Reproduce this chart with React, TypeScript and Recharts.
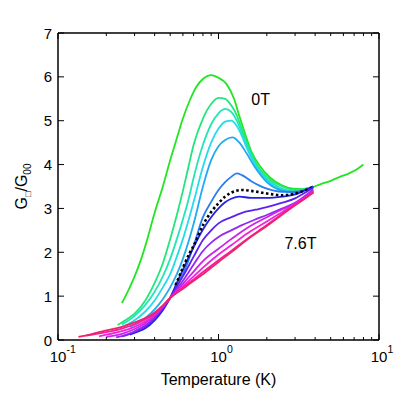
import React from 'react';
import { LineChart, Line, XAxis, YAxis, ReferenceDot } from 'recharts';

const FONT = '"Liberation Sans", Arial, Helvetica, sans-serif';

// ---- axis ticks ----
const xMajorTicks = [0.1, 1, 10];
const xTickExponents = ['-1', '0', '1'];
const xTickValues = [0.1, 0.2, 0.3, 0.4, 0.5, 0.6, 0.7, 0.8, 0.9, 1, 2, 3, 4, 5, 6, 7, 8, 9, 10];
const yTicks = [0, 1, 2, 3, 4, 5, 6, 7];

// ---- curves (temperature K, G/G00) ----
const t00 = [0.25, 0.28, 0.3, 0.33, 0.36, 0.4, 0.45, 0.5, 0.55, 0.6, 0.66, 0.73, 0.8, 0.9, 1.0, 1.12, 1.25, 1.35, 1.45, 1.6, 1.8, 2.1, 2.5, 2.9, 3.3, 3.8, 4.3, 5.0, 5.7, 6.5, 7.2, 8.0];
const g00 = [0.84, 1.2, 1.45, 1.85, 2.3, 2.9, 3.5, 4.1, 4.6, 5.05, 5.45, 5.78, 5.95, 6.04, 5.98, 5.84, 5.5, 5.1, 4.75, 4.3, 3.98, 3.7, 3.52, 3.45, 3.44, 3.48, 3.55, 3.63, 3.72, 3.8, 3.88, 4.0];

const t01 = [0.235, 0.27, 0.3, 0.35, 0.4, 0.45, 0.5, 0.55, 0.6, 0.65, 0.7, 0.8, 0.9, 1.0, 1.1, 1.2, 1.3, 1.4, 1.5, 1.7, 2.0, 2.5, 3.0, 3.5, 3.9];
const g01 = [0.34, 0.48, 0.6, 0.9, 1.3, 1.75, 2.3, 2.85, 3.4, 3.95, 4.45, 5.05, 5.38, 5.52, 5.5, 5.35, 5.12, 4.8, 4.5, 4.05, 3.72, 3.5, 3.42, 3.45, 3.5];

const t02 = [0.25, 0.3, 0.35, 0.4, 0.45, 0.5, 0.55, 0.6, 0.65, 0.7, 0.8, 0.9, 1.0, 1.1, 1.2, 1.3, 1.4, 1.5, 1.7, 2.0, 2.5, 3.0, 3.5, 3.9];
const g02 = [0.35, 0.55, 0.8, 1.1, 1.45, 1.85, 2.3, 2.75, 3.2, 3.7, 4.45, 4.92, 5.17, 5.27, 5.2, 5.0, 4.72, 4.45, 4.0, 3.68, 3.45, 3.38, 3.42, 3.5];

const t03 = [0.26, 0.3, 0.35, 0.4, 0.45, 0.5, 0.55, 0.6, 0.7, 0.8, 0.9, 1.0, 1.1, 1.2, 1.3, 1.4, 1.5, 1.7, 2.0, 2.5, 3.0, 3.5, 3.9];
const g03 = [0.32, 0.45, 0.65, 0.9, 1.2, 1.5, 1.9, 2.3, 3.15, 3.95, 4.5, 4.82, 4.98, 5.0, 4.88, 4.65, 4.38, 3.98, 3.64, 3.42, 3.36, 3.42, 3.5];

const t04 = [0.28, 0.32, 0.35, 0.4, 0.45, 0.5, 0.55, 0.6, 0.7, 0.8, 0.9, 1.0, 1.1, 1.22, 1.35, 1.5, 1.7, 2.0, 2.5, 3.0, 3.5, 3.9];
const g04 = [0.3, 0.4, 0.5, 0.7, 0.93, 1.2, 1.5, 1.85, 2.65, 3.5, 4.1, 4.42, 4.56, 4.62, 4.5, 4.25, 3.92, 3.6, 3.4, 3.36, 3.42, 3.5];

const t05 = [0.3, 0.35, 0.4, 0.45, 0.5, 0.55, 0.6, 0.7, 0.8, 0.9, 1.0, 1.1, 1.2, 1.3, 1.4, 1.6, 1.8, 2.0, 2.5, 3.0, 3.5, 3.9];
const g05 = [0.2, 0.33, 0.5, 0.72, 0.97, 1.25, 1.5, 2.15, 2.8, 3.15, 3.42, 3.6, 3.72, 3.8, 3.76, 3.62, 3.52, 3.45, 3.38, 3.38, 3.43, 3.5];

const tFit = [0.54, 0.6, 0.66, 0.7, 0.8, 0.9, 1.0, 1.1, 1.2, 1.4, 1.6, 2.0, 2.5, 3.0, 3.5, 3.85];
const gFit = [1.25, 1.65, 1.98, 2.15, 2.62, 2.92, 3.12, 3.27, 3.36, 3.42, 3.4, 3.34, 3.3, 3.34, 3.42, 3.48];

const t06 = [0.28, 0.32, 0.35, 0.4, 0.45, 0.5, 0.55, 0.6, 0.7, 0.8, 0.9, 1.0, 1.1, 1.2, 1.35, 1.6, 2.0, 2.5, 3.0, 3.5, 3.9];
const g06 = [0.12, 0.2, 0.27, 0.45, 0.68, 0.96, 1.3, 1.6, 2.12, 2.52, 2.8, 3.0, 3.14, 3.22, 3.27, 3.24, 3.24, 3.27, 3.32, 3.42, 3.5];

const t07 = [0.25, 0.3, 0.35, 0.4, 0.45, 0.5, 0.55, 0.6, 0.7, 0.8, 0.9, 1.0, 1.2, 1.4, 1.7, 2.0, 2.5, 3.0, 3.5, 3.9];
const g07 = [0.08, 0.18, 0.3, 0.48, 0.72, 0.96, 1.22, 1.45, 1.9, 2.28, 2.5, 2.66, 2.8, 2.9, 2.97, 3.03, 3.13, 3.23, 3.37, 3.48];

const t08 = [0.23, 0.25, 0.3, 0.35, 0.4, 0.45, 0.5, 0.6, 0.7, 0.8, 0.9, 1.0, 1.2, 1.4, 1.7, 2.0, 2.5, 3.0, 3.5, 3.9];
const g08 = [0.06, 0.09, 0.2, 0.33, 0.52, 0.74, 0.96, 1.35, 1.72, 2.03, 2.22, 2.35, 2.5, 2.62, 2.75, 2.85, 3.0, 3.13, 3.3, 3.43];

const t09 = [0.2, 0.25, 0.3, 0.35, 0.4, 0.45, 0.5, 0.6, 0.7, 0.8, 1.0, 1.2, 1.5, 2.0, 2.5, 3.0, 3.5, 3.9];
const g09 = [0.07, 0.14, 0.25, 0.38, 0.56, 0.76, 0.96, 1.28, 1.56, 1.8, 2.08, 2.3, 2.55, 2.8, 2.98, 3.12, 3.28, 3.4];

const t10 = [0.18, 0.2, 0.25, 0.3, 0.35, 0.4, 0.45, 0.5, 0.6, 0.7, 0.8, 1.0, 1.2, 1.5, 2.0, 2.5, 3.0, 3.5, 3.9];
const g10 = [0.08, 0.12, 0.2, 0.3, 0.42, 0.58, 0.77, 0.96, 1.23, 1.45, 1.65, 1.95, 2.16, 2.42, 2.7, 2.92, 3.1, 3.26, 3.38];

const t11 = [0.15, 0.2, 0.25, 0.3, 0.35, 0.4, 0.45, 0.5, 0.6, 0.7, 0.8, 1.0, 1.2, 1.5, 2.0, 2.5, 3.0, 3.5, 3.9];
const g11 = [0.1, 0.18, 0.26, 0.36, 0.47, 0.6, 0.77, 0.96, 1.2, 1.38, 1.55, 1.82, 2.03, 2.3, 2.62, 2.88, 3.08, 3.25, 3.37];

const t12 = [0.134, 0.16, 0.2, 0.25, 0.3, 0.35, 0.4, 0.45, 0.5, 0.6, 0.7, 0.8, 1.0, 1.2, 1.5, 2.0, 2.5, 3.0, 3.5, 3.9];
const g12 = [0.07, 0.13, 0.22, 0.3, 0.4, 0.5, 0.63, 0.79, 0.96, 1.17, 1.35, 1.5, 1.78, 2.0, 2.28, 2.6, 2.86, 3.07, 3.24, 3.36];

const series = [
  { id: 's00', color: '#22e622', temps: t00, vals: g00, dash: undefined as string | undefined },
  { id: 's01', color: '#22e67c', temps: t01, vals: g01, dash: undefined },
  { id: 's02', color: '#22e6b4', temps: t02, vals: g02, dash: undefined },
  { id: 's03', color: '#22dcea', temps: t03, vals: g03, dash: undefined },
  { id: 's04', color: '#22aaf0', temps: t04, vals: g04, dash: undefined },
  { id: 's05', color: '#2a7cf0', temps: t05, vals: g05, dash: undefined },
  { id: 's06', color: '#2222e6', temps: t06, vals: g06, dash: undefined },
  { id: 'fit', color: '#000000', temps: tFit, vals: gFit, dash: '2.5 2.5' },
  { id: 's07', color: '#5a22f0', temps: t07, vals: g07, dash: undefined },
  { id: 's08', color: '#9628f0', temps: t08, vals: g08, dash: undefined },
  { id: 's09', color: '#cc22ee', temps: t09, vals: g09, dash: undefined },
  { id: 's10', color: '#f022e0', temps: t10, vals: g10, dash: undefined },
  { id: 's11', color: '#f0229a', temps: t11, vals: g11, dash: undefined },
  { id: 's12', color: '#f0226e', temps: t12, vals: g12, dash: undefined },
];

const BottomTick = (p: any) => {
  const { x, y, payload } = p;
  const idx = xMajorTicks.indexOf(payload.value);
  const major = idx >= 0;
  return (
    <g>
      <line x1={x} x2={x} y1={y} y2={y - (major ? 6 : 3)} stroke="#000" strokeWidth={1} />
      {major && (
        <text x={x} y={y + 22} textAnchor="middle" fontFamily={FONT} fontSize={15} fill="#000">10</text>
      )}
      {major && (
        <text x={x + 8.5} y={y + 13} textAnchor="start" fontFamily={FONT} fontSize={10.5} fill="#000">{xTickExponents[idx]}</text>
      )}
    </g>
  );
};

const TopTick = (p: any) => {
  const { x, y, payload } = p;
  const major = xMajorTicks.indexOf(payload.value) >= 0;
  return <line x1={x} x2={x} y1={y} y2={y + (major ? 6 : 3)} stroke="#000" strokeWidth={1} />;
};

const LeftTick = (p: any) => {
  const { x, y, payload } = p;
  return (
    <g>
      <line x1={x} x2={x + 6} y1={y} y2={y} stroke="#000" strokeWidth={1} />
      <text x={x - 6} y={y + 5.5} textAnchor="end" fontFamily={FONT} fontSize={15} fill="#000">{payload.value}</text>
    </g>
  );
};

const RightTick = (p: any) => {
  const { x, y } = p;
  return <line x1={x} x2={x - 6} y1={y} y2={y} stroke="#000" strokeWidth={1} />;
};

const YLabel = (props: any) => {
  const vb = props.viewBox || { x: 0, y: 25, width: 50, height: 307 };
  const cx = vb.x + 19;
  const cy = vb.y + vb.height / 2;
  return (
    <text x={cx} y={cy} transform={`rotate(-90, ${cx}, ${cy})`} textAnchor="middle" fontFamily={FONT} fontSize={16} fill="#000">
      G<tspan fontSize={9} dy={4}>□</tspan><tspan fontSize={16} dy={-4}>/G</tspan><tspan fontSize={10} dy={4}>00</tspan>
    </text>
  );
};

const XLabel = (props: any) => {
  const vb = props.viewBox || { x: 50, y: 332, width: 321, height: 68 };
  return (
    <text x={vb.x + vb.width / 2} y={vb.y + 45} textAnchor="middle" fontFamily={FONT} fontSize={16} fill="#000">
      Temperature (K)
    </text>
  );
};

const axisLine = { stroke: '#000', strokeWidth: 1.5 };

export default function App() {
  return (
    <LineChart width={400} height={400} margin={{ top: 24, right: 28, bottom: 0, left: 0 }}>
      <XAxis
        xAxisId="bottom"
        type="number"
        dataKey="t"
        scale="log"
        domain={[0.1, 10]}
        allowDataOverflow
        ticks={xTickValues}
        interval={0}
        tick={<BottomTick />}
        tickLine={false}
        tickSize={0}
        tickMargin={0}
        axisLine={axisLine}
        height={68}
        label={{ content: <XLabel /> }}
      />
      <XAxis
        xAxisId="top"
        orientation="top"
        type="number"
        dataKey="t"
        scale="log"
        domain={[0.1, 10]}
        allowDataOverflow
        ticks={xTickValues}
        interval={0}
        tick={<TopTick />}
        tickLine={false}
        tickSize={0}
        tickMargin={0}
        axisLine={axisLine}
        height={1}
      />
      <YAxis
        yAxisId="left"
        type="number"
        domain={[0, 7]}
        allowDataOverflow
        ticks={yTicks}
        interval={0}
        tick={<LeftTick />}
        tickLine={false}
        tickSize={0}
        tickMargin={0}
        axisLine={axisLine}
        width={50}
        label={{ content: <YLabel /> }}
      />
      <YAxis
        yAxisId="right"
        orientation="right"
        type="number"
        domain={[0, 7]}
        allowDataOverflow
        ticks={yTicks}
        interval={0}
        tick={<RightTick />}
        tickLine={false}
        tickSize={0}
        tickMargin={0}
        axisLine={axisLine}
        width={1}
      />
      {series.map((s) => (
        <Line
          key={s.id}
          xAxisId="bottom"
          yAxisId="left"
          data={s.temps.map((t, i) => ({ t, g: s.vals[i] }))}
          dataKey="g"
          type="monotone"
          stroke={s.color}
          strokeWidth={s.dash ? 2.6 : 1.8}
          strokeDasharray={s.dash}
          dot={false}
          activeDot={false}
          isAnimationActive={false}
        />
      ))}
      <ReferenceDot
        xAxisId="bottom"
        yAxisId="left"
        x={1.83}
        y={5.49}
        r={0}
        label={{ value: '0T', position: 'center', fontSize: 16, fontFamily: FONT, fill: '#000' }}
      />
      <ReferenceDot
        xAxisId="bottom"
        yAxisId="left"
        x={3.24}
        y={2.21}
        r={0}
        label={{ value: '7.6T', position: 'center', fontSize: 16, fontFamily: FONT, fill: '#000' }}
      />
    </LineChart>
  );
}
